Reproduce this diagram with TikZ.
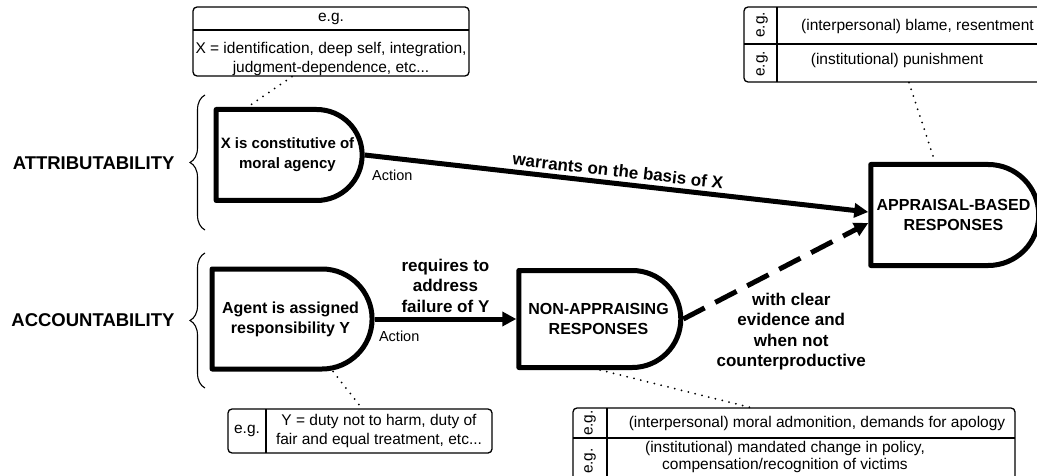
\documentclass[tikz,border=0pt]{standalone}
\usepackage{fontspec}
\setmainfont{Liberation Sans}
\usetikzlibrary{shapes.misc,arrows.meta,decorations.pathreplacing}

\tikzset{
  stage/.style={draw, line width=5pt, line join=round, rounded rectangle, rounded rectangle left arc=none, align=center, inner sep=0pt, font=\fontsize{16}{20}\selectfont\bfseries},
  link/.style={line width=5pt, -{Triangle[length=14pt,width=14pt]}},
  gapline/.style={dash pattern=on 24pt off 12pt},
  edgelbl/.style={align=center, inner sep=4pt, font=\fontsize{17}{20.5}\selectfont\bfseries},
  actlbl/.style={inner sep=1pt, font=\fontsize{14.5}{16}\selectfont},
  side/.style={anchor=east, font=\fontsize{18.5}{22}\selectfont\bfseries},
  egbox/.style={draw, line width=1.3pt, rounded corners=4pt, inner sep=0pt},
  boxline/.style={line width=1.3pt},
  boxtxt/.style={align=center, inner sep=0pt, font=\fontsize{15.5}{18.5}\selectfont},
  hint/.style={line width=2pt, line cap=round, dash pattern=on 0pt off 7pt},
  brace/.style={decorate, decoration={brace, amplitude=15pt}, line width=1.1pt}
}

\begin{document}
\begin{tikzpicture}[x=1pt,y=-1pt]
\clip (0,0) rectangle (1037,476);

\node [stage, minimum width=146pt, minimum height=91pt, font=\fontsize{15}{20}\selectfont\bfseries] (attr) at (287.5,155) {X is constitutive of\\moral agency};
\node [stage, minimum width=160pt, minimum height=100pt] (agent) at (290.5,319) {Agent is assigned\\responsibility Y};
\node [stage, minimum width=162pt, minimum height=97pt] (nonapp) at (598.5,319) {NON-APPRAISING\\RESPONSES};
\node [stage, minimum width=168pt, minimum height=101pt] (appr) at (953.5,215) {APPRAISAL-BASED\\RESPONSES};

\draw [brace] (205,230) -- (205,95);
\node [side] (attrlbl) at (178,163) {ATTRIBUTABILITY};
\draw [brace] (205,388) -- (205,253);
\node [side] (acclbl) at (178,320) {ACCOUNTABILITY};

\draw [link] (attr.east) -- ([yshift=3pt]appr.west)
  node [midway, above, sloped, edgelbl] (warr) {warrants on the basis of X}
  node [pos=0, anchor=north west, xshift=4pt, yshift=-11pt, actlbl] (act1) {Action};
\draw [link] (agent.east) -- (nonapp.west)
  node [midway, above, edgelbl] (req) {requires to\\address\\failure of Y}
  node [pos=0, anchor=north west, xshift=1pt, yshift=-8pt, actlbl] (act2) {Action};
\draw [link, gapline] (nonapp.east) -- ([yshift=-8pt]appr.west)
  node [pos=0.5, anchor=north, xshift=15.5pt, yshift=-15.5pt, edgelbl] (cond) {with clear\\evidence and\\when not\\counterproductive};

% example boxes
\node [egbox, minimum width=276pt, minimum height=69pt] (xbox) at (331,41.5) {};
\draw [boxline] (193,30) -- (469,30);
\node [boxtxt] (xeg) at (331,18.5) {e.g.};
\node [boxtxt] (xlist) at (331,59) {X = identification, deep self, integration,\\judgment-dependence, etc...};
\draw [hint] ([xshift=-39pt]xbox.south) -- ([xshift=-40pt]attr.north);

\node [egbox, minimum width=316pt, minimum height=75pt] (pbox) at (902,44.5) {};
\draw [boxline] (744,44) -- (1060,44);
\draw [boxline] (777,7) -- (777,82);
\node [boxtxt, rotate=90] (peg1) at (762,25) {e.g.};
\node [boxtxt, rotate=90] (peg2) at (762,64) {e.g.};
\node [boxtxt] (pinter) at (917.5,26) {(interpersonal) blame, resentment};
\node [boxtxt] (pinst) at (897,60) {(institutional) punishment};
\draw [hint] ([xshift=7pt]pbox.south) -- ([xshift=-18.5pt]appr.north);

\node [egbox, minimum width=264pt, minimum height=44pt] (ybox) at (360,431) {};
\draw [boxline] (266,409) -- (266,453);
\node [boxtxt] (yeg) at (247,431) {e.g.};
\node [boxtxt] (ylist) at (379,431) {Y = duty not to harm, duty of\\fair and equal treatment, etc...};
\draw [hint] ([xshift=42.5pt]agent.south) -- ([xshift=2pt]ybox.north);

\node [egbox, minimum width=442pt, minimum height=82pt] (rbox) at (794,449) {};
\draw [boxline] (573,438) -- (1015,438);
\draw [boxline] (607,408) -- (607,490);
\node [boxtxt, rotate=90] (reg1) at (590,423) {e.g.};
\node [boxtxt, rotate=90] (reg2) at (590,461) {e.g.};
\node [boxtxt] (rinter) at (817,423) {(interpersonal) moral admonition, demands for apology};
\node [boxtxt, font=\fontsize{15.5}{17}\selectfont] (rinst) at (785,456.5) {(institutional) mandated change in policy,\\compensation/recognition of victims};
\draw [hint] ([xshift=1.5pt]nonapp.south) -- ([xshift=-44pt]rbox.north);
\end{tikzpicture}
\end{document}
